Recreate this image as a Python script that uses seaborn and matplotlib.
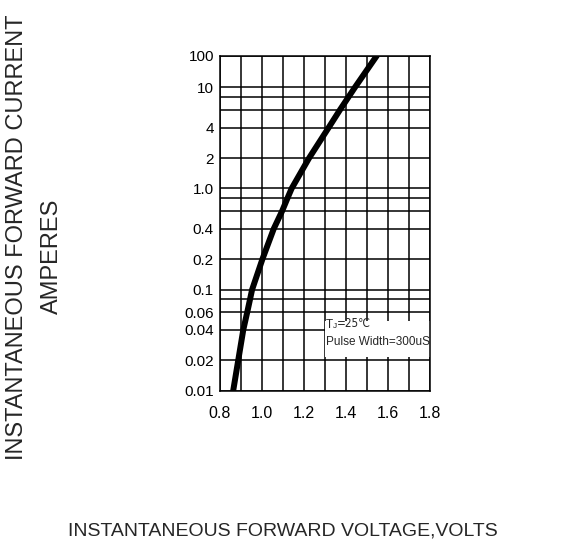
import numpy as np
import pandas as pd
import seaborn as sns
import matplotlib
matplotlib.use("Agg")
import matplotlib.pyplot as plt
from matplotlib.patches import Rectangle

voltaje = [0.865, 0.889, 0.913, 0.932, 0.945, 0.955, 1.004, 1.058, 1.098, 1.123, 1.143,
           1.226, 1.319, 1.373, 1.413, 1.444, 1.548]
corriente = [0.01, 0.02, 0.04, 0.06, 0.08, 0.1, 0.2, 0.4, 0.6, 0.8, 1.0,
             2, 4, 6, 8, 10, 100]

y_ticks = [0.01, 0.02, 0.04, 0.06, 0.1, 0.2, 0.4, 1.0, 2, 4, 10, 100]
y_labels = ["0.01", "0.02", "0.04", "0.06", "0.1", "0.2", "0.4", "1.0", "2", "4", "10", "100"]
y_minor = [0.08, 0.6, 0.8, 6, 8]
x_ticks = [0.8, 1.0, 1.2, 1.4, 1.6, 1.8]
x_minor = [0.9, 1.1, 1.3, 1.5, 1.7]

df = pd.DataFrame({"V": voltaje, "I": corriente})

sns.set_style("white")
plt.rcParams["font.family"] = ["Liberation Sans", "DejaVu Sans"]

# la decada 10-100 esta comprimida en el original
K = 0.313
def fwd(v):
    l = np.log10(np.clip(v, 1e-12, None))
    return np.where(l <= 1, l, 1 + (l - 1) * K)
def inv(u):
    return np.where(u <= 1, 10 ** u, 10 ** (1 + (u - 1) / K))

fig = plt.figure(figsize=(5.62, 5.46), dpi=100)
ax = fig.add_axes([0.3906, 0.2844, 0.3742, 0.6136])
ax.set_yscale("function", functions=(fwd, inv))
ax.set_ylim(0.01, 100)
ax.set_xlim(0.8, 1.8)

ax.set_yticks(y_ticks)
ax.set_yticklabels(y_labels)
ax.set_yticks(y_minor, minor=True)
ax.set_xticks(x_ticks)
ax.set_xticklabels(["%.1f" % t for t in x_ticks])
ax.set_xticks(x_minor, minor=True)
ax.tick_params(which="both", length=0, colors="black")
ax.tick_params(axis="x", pad=11, labelsize=11.5)
ax.tick_params(axis="y", pad=4, labelsize=11)
ax.grid(True, which="both", color="black", lw=1.1)
ax.set_axisbelow(True)
for s in ax.spines.values():
    s.set_color("black")
    s.set_linewidth(1.1)

# recuadro blanco de la leyenda
ax.add_patch(Rectangle((1.303, 0.0216), 0.497, 0.0493 - 0.0216, facecolor="white",
                       edgecolor="none", zorder=1.5))
t1 = ax.text(1.303, 0.0445, "T", fontsize=8.5, va="center", ha="left", zorder=2)
t2 = ax.annotate("J", xy=(1.0, 0.12), xycoords=t1, fontsize=6, va="bottom", ha="left", zorder=2)
ax.annotate("=25\u2103", xy=(1.0, 0.0), xycoords=t2, fontsize=8.5, va="bottom", ha="left",
            zorder=2, family=["DejaVu Sans"], fontstretch="condensed")
ax.text(1.308, 0.0305, "Pulse Width=300uS", fontsize=8.5, va="center", ha="left", zorder=2)

sns.lineplot(data=df, x="V", y="I", sort=False, color="black", lw=4.3, ax=ax, zorder=3,
             solid_capstyle="round", solid_joinstyle="round")
ax.set_xlabel("")
ax.set_ylabel("")

fig.text(0.031, 0.566, "INSTANTANEOUS FORWARD CURRENT", rotation=90, ha="center", va="center",
         fontsize=17)
fig.text(0.093, 0.531, "AMPERES", rotation=90, ha="center", va="center", fontsize=17)
fig.text(0.504, 0.027, "INSTANTANEOUS FORWARD VOLTAGE,VOLTS", ha="center", va="center",
         fontsize=14)

fig.savefig("out.png", dpi=100)
